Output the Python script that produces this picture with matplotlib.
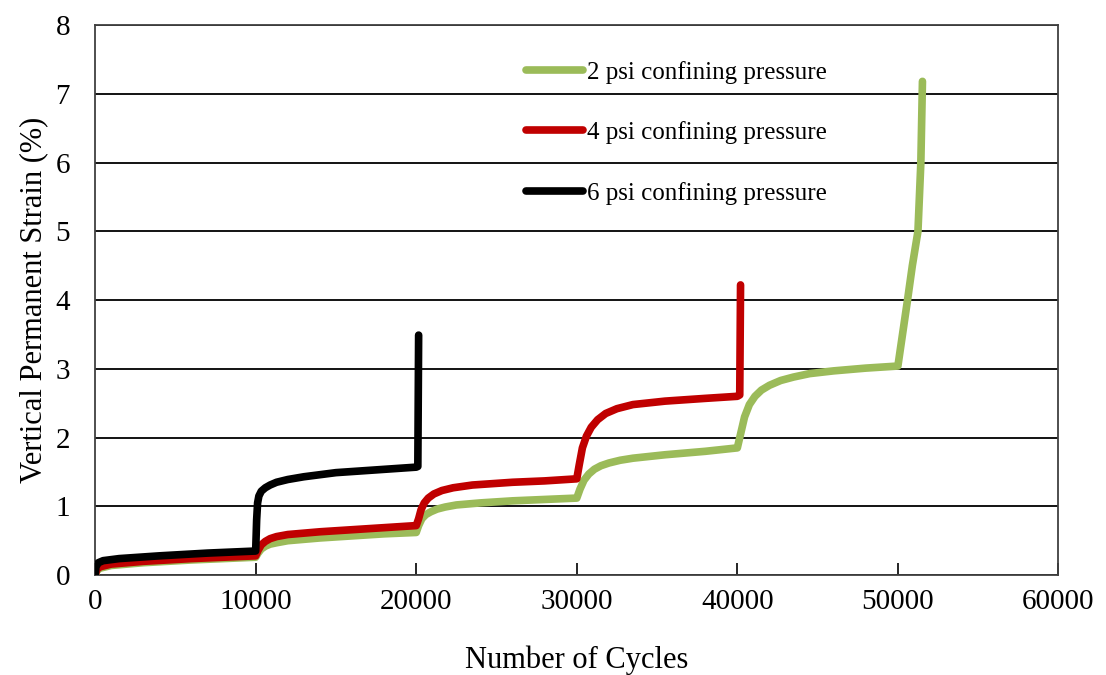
import matplotlib
matplotlib.use("Agg")
import matplotlib.pyplot as plt

# ==============================
# Data
# ==============================
labels = ["2 psi confining pressure", "4 psi confining pressure", "6 psi confining pressure"]
colors = ["#9BBB59", "#C00000", "#000000"]

x_2psi = [0, 100, 300, 1000, 3000, 6000, 10000, 10150, 10350, 10600, 10900, 11300,
          12000, 14000, 16000, 18000, 20000, 20150, 20350, 20600, 20900, 21300,
          21800, 22500, 24000, 26000, 28000, 30000, 30200, 30450, 30750, 31100,
          31500, 32000, 32700, 33500, 35500, 38000, 40000, 40200, 40450, 40750,
          41100, 41500, 42000, 42700, 43500, 44500, 46000, 48000, 50000, 50600,
          50900, 51250, 51430, 51530]
y_2psi = [0, 0.06, 0.10, 0.14, 0.18, 0.22, 0.26, 0.32, 0.38, 0.42, 0.45, 0.47,
          0.50, 0.54, 0.57, 0.60, 0.62, 0.72, 0.82, 0.88, 0.92, 0.96,
          0.99, 1.02, 1.05, 1.08, 1.10, 1.12, 1.25, 1.38, 1.47, 1.54,
          1.59, 1.63, 1.67, 1.70, 1.75, 1.80, 1.85, 2.05, 2.30, 2.48,
          2.60, 2.69, 2.76, 2.83, 2.88, 2.93, 2.97, 3.01, 3.04, 4.00,
          4.50, 5.00, 6.00, 7.18]

x_4psi = [0, 100, 300, 1000, 3000, 6000, 10000, 10150, 10350, 10600, 10900, 11300,
          12000, 14000, 16000, 18000, 20000, 20150, 20300, 20500, 20750, 21100,
          21600, 22300, 23500, 26000, 28000, 30000, 30150, 30350, 30600, 30900,
          31300, 31800, 32500, 33500, 35500, 38000, 40000, 40150, 40200]
y_4psi = [0, 0.08, 0.12, 0.16, 0.20, 0.24, 0.28, 0.36, 0.44, 0.49, 0.53, 0.56,
          0.59, 0.63, 0.66, 0.69, 0.72, 0.82, 0.95, 1.05, 1.12, 1.18,
          1.23, 1.27, 1.31, 1.35, 1.37, 1.40, 1.60, 1.85, 2.02, 2.15,
          2.26, 2.35, 2.42, 2.48, 2.53, 2.57, 2.60, 2.62, 4.22]

x_6psi = [0, 50, 200, 500, 1500, 4000, 7000, 10000, 10060, 10120, 10200, 10350,
          10600, 10900, 11300, 12000, 13000, 15000, 17500, 20000, 20100, 20150]
y_6psi = [0, 0.12, 0.18, 0.21, 0.24, 0.28, 0.32, 0.35, 0.80, 1.05, 1.15, 1.22,
          1.27, 1.31, 1.35, 1.39, 1.43, 1.49, 1.53, 1.57, 1.58, 3.49]

x_ticks = [0, 10000, 20000, 30000, 40000, 50000, 60000]
y_ticks = [0, 1, 2, 3, 4, 5, 6, 7, 8]

plt.rcParams["font.family"] = ["Liberation Serif", "DejaVu Serif"]

fig = plt.figure(figsize=(11.06, 6.75), dpi=100)
ax = fig.add_axes([0.086, 0.148, 0.871, 0.815])

series = [(x_2psi, y_2psi), (x_4psi, y_4psi), (x_6psi, y_6psi)]
for (xs, ys), lab, col in zip(series, labels, colors):
    ax.plot(xs, ys, color=col, lw=5.5, label=lab,
            solid_capstyle="round", solid_joinstyle="round", zorder=3)

ax.set_xlim(0, 60000)
ax.set_ylim(0, 8)
ax.set_xticks(x_ticks)
ax.set_yticks(y_ticks)
ax.yaxis.grid(True, color="black", lw=1.3)
ax.set_axisbelow(True)
for sp in ax.spines.values():
    sp.set_color("#404040")
    sp.set_linewidth(1.3)

ax.tick_params(axis="x", direction="in", length=9, width=1.2, labelsize=21, pad=10)
ax.tick_params(axis="y", length=0, labelsize=21, pad=18)
ax.set_xlabel("Number of Cycles", fontsize=22, labelpad=22)
ax.set_ylabel("Vertical Permanent Strain (%)", fontsize=22, labelpad=5)

ax.legend(loc="upper left", bbox_to_anchor=(0.447, 0.935), frameon=False,
          fontsize=18, handlelength=2.3, handletextpad=0.15, labelspacing=1.5,
          borderpad=0, borderaxespad=0)

fig.savefig("out.png", dpi=100)
